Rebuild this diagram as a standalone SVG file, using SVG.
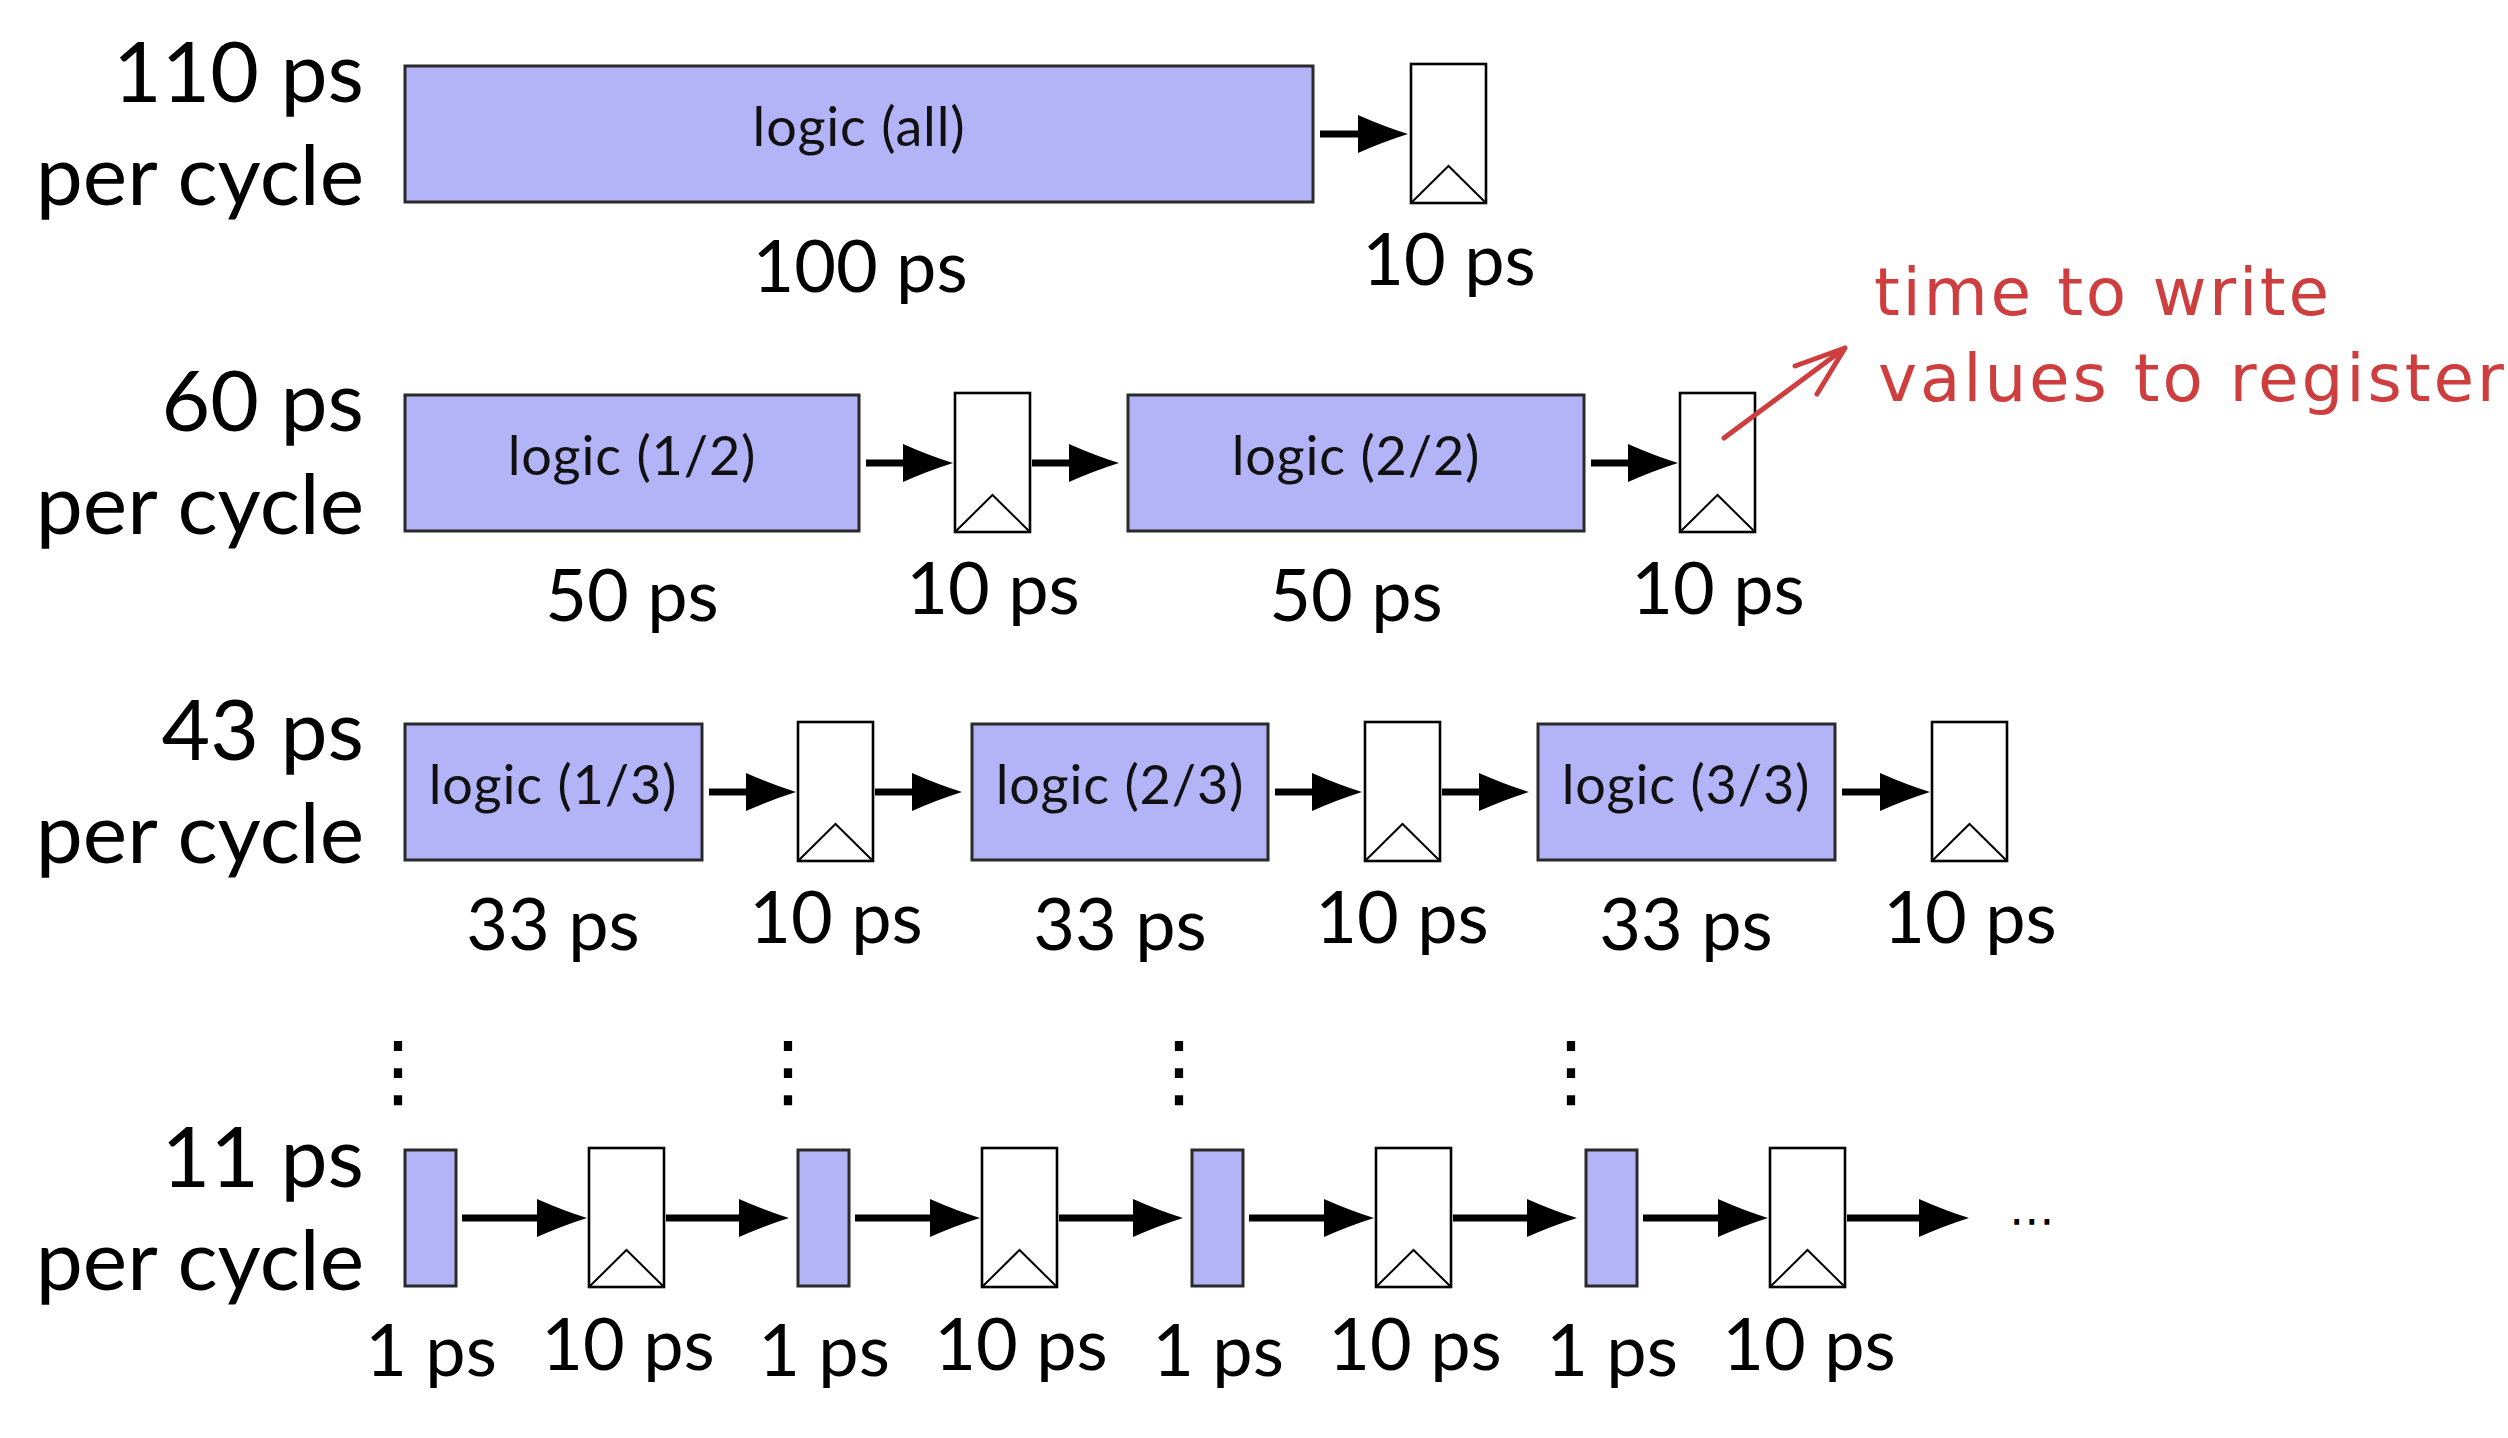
<svg xmlns="http://www.w3.org/2000/svg" width="2508" height="1438" viewBox="0 0 2508 1438">
<style>
.bg{fill:#ffffff}
.logic{fill:#b3b3f8;stroke:#2a2a2a;stroke-width:3}
.reg{fill:#ffffff;stroke:#000000;stroke-width:2.6}
.clk{fill:none;stroke:#000000;stroke-width:2}
.arr{stroke:#000000;stroke-width:7;fill:none}
.big{font-family:Lato,"Liberation Sans",sans-serif;font-size:84px;fill:#000;text-anchor:end}
.lbl{font-family:Lato,"Liberation Sans",sans-serif;font-size:72px;fill:#000;text-anchor:middle}
.lt{font-family:Lato,"Liberation Sans",sans-serif;font-size:54px;letter-spacing:0.8px;fill:#111;text-anchor:middle}
.dots{font-family:"DejaVu Sans",sans-serif;font-size:80px;fill:#000;text-anchor:middle}
.note{font-family:"DejaVu Sans",sans-serif;font-size:66px;fill:#cf3e3e}
.red{stroke:#cf3e3e;stroke-width:5;fill:none;stroke-linecap:round;stroke-linejoin:round}
</style>
<defs>
<marker id="ah" viewBox="0 0 50 38" markerWidth="50" markerHeight="38" refX="10" refY="19" orient="auto" markerUnits="userSpaceOnUse">
<path d="M0,0 Q26,11.5 50,19 Q26,26.5 0,38 Z" fill="#000"/>
</marker>
</defs>
<rect class="bg" x="0" y="0" width="2508" height="1438"/>

<g id="row-labels">
<text class="big" x="364" y="102">110 ps</text>
<text class="big" x="364" y="205">per cycle</text>
<text class="big" x="364" y="431">60 ps</text>
<text class="big" x="364" y="534">per cycle</text>
<text class="big" x="364" y="760">43 ps</text>
<text class="big" x="364" y="863">per cycle</text>
<text class="big" x="364" y="1187">11 ps</text>
<text class="big" x="364" y="1290">per cycle</text>
</g>

<!-- Row 1 -->
<g id="r1-logic"><rect class="logic" x="405" y="66" width="908" height="136"/><text class="lt" x="859" y="146">logic (all)</text><text class="lbl" x="860" y="292">100 ps</text></g>
<g id="r1-reg"><rect class="reg" x="1411" y="64" width="75" height="139"/><path class="clk" d="M1411,203 L1448.5,166 L1486,203"/><text class="lbl" x="1449" y="285">10 ps</text></g>

<!-- Row 2 -->
<g id="r2-logic1"><rect class="logic" x="405" y="395" width="454" height="136"/><text class="lt" x="632" y="475">logic (1/2)</text><text class="lbl" x="632" y="621">50 ps</text></g>
<g id="r2-reg1"><rect class="reg" x="955" y="393" width="75" height="139"/><path class="clk" d="M955,532 L992.5,495 L1030,532"/><text class="lbl" x="993" y="614">10 ps</text></g>
<g id="r2-logic2"><rect class="logic" x="1128" y="395" width="456" height="136"/><text class="lt" x="1356" y="475">logic (2/2)</text><text class="lbl" x="1356" y="621">50 ps</text></g>
<g id="r2-reg2"><rect class="reg" x="1680" y="393" width="75" height="139"/><path class="clk" d="M1680,532 L1717.5,495 L1755,532"/><text class="lbl" x="1718" y="614">10 ps</text></g>

<!-- Row 3 -->
<g id="r3-logic1"><rect class="logic" x="405" y="724" width="297" height="136"/><text class="lt" x="553" y="804">logic (1/3)</text><text class="lbl" x="553" y="950">33 ps</text></g>
<g id="r3-reg1"><rect class="reg" x="798" y="722" width="75" height="139"/><path class="clk" d="M798,861 L835.5,824 L873,861"/><text class="lbl" x="836" y="943">10 ps</text></g>
<g id="r3-logic2"><rect class="logic" x="972" y="724" width="296" height="136"/><text class="lt" x="1120" y="804">logic (2/3)</text><text class="lbl" x="1120" y="950">33 ps</text></g>
<g id="r3-reg2"><rect class="reg" x="1365" y="722" width="75" height="139"/><path class="clk" d="M1365,861 L1402.5,824 L1440,861"/><text class="lbl" x="1402" y="943">10 ps</text></g>
<g id="r3-logic3"><rect class="logic" x="1538" y="724" width="297" height="136"/><text class="lt" x="1686" y="804">logic (3/3)</text><text class="lbl" x="1686" y="950">33 ps</text></g>
<g id="r3-reg3"><rect class="reg" x="1932" y="722" width="75" height="139"/><path class="clk" d="M1932,861 L1969.5,824 L2007,861"/><text class="lbl" x="1970" y="943">10 ps</text></g>

<!-- Dots -->
<g id="vdots">
<text class="dots" x="398" y="1098">⋮</text>
<text class="dots" x="788" y="1098">⋮</text>
<text class="dots" x="1179" y="1098">⋮</text>
<text class="dots" x="1571" y="1098">⋮</text>
</g>

<!-- Row 4 -->
<g id="r4-logic1"><rect class="logic" x="405" y="1150" width="51" height="136"/><text class="lbl" x="431" y="1376">1 ps</text></g>
<g id="r4-reg1"><rect class="reg" x="589" y="1148" width="75" height="139"/><path class="clk" d="M589,1287 L626.5,1250 L664,1287"/><text class="lbl" x="628" y="1370">10 ps</text></g>
<g id="r4-logic2"><rect class="logic" x="798" y="1150" width="51" height="136"/><text class="lbl" x="824" y="1376">1 ps</text></g>
<g id="r4-reg2"><rect class="reg" x="982" y="1148" width="75" height="139"/><path class="clk" d="M982,1287 L1019.5,1250 L1057,1287"/><text class="lbl" x="1021" y="1370">10 ps</text></g>
<g id="r4-logic3"><rect class="logic" x="1192" y="1150" width="51" height="136"/><text class="lbl" x="1218" y="1376">1 ps</text></g>
<g id="r4-reg3"><rect class="reg" x="1376" y="1148" width="75" height="139"/><path class="clk" d="M1376,1287 L1413.5,1250 L1451,1287"/><text class="lbl" x="1415" y="1370">10 ps</text></g>
<g id="r4-logic4"><rect class="logic" x="1586" y="1150" width="51" height="136"/><text class="lbl" x="1612" y="1376">1 ps</text></g>
<g id="r4-reg4"><rect class="reg" x="1770" y="1148" width="75" height="139"/><path class="clk" d="M1770,1287 L1807.5,1250 L1845,1287"/><text class="lbl" x="1809" y="1370">10 ps</text></g>
<g id="r4-more"><text x="2032" y="1236" style="font-family:'DejaVu Sans',sans-serif;font-size:46px;text-anchor:middle">⋯</text></g>

<g id="connectors">
<line class="arr" x1="1320" y1="134" x2="1368" y2="134" marker-end="url(#ah)"/>

<line class="arr" x1="866" y1="463" x2="913" y2="463" marker-end="url(#ah)"/>
<line class="arr" x1="1032" y1="463" x2="1079" y2="463" marker-end="url(#ah)"/>
<line class="arr" x1="1591" y1="463" x2="1638" y2="463" marker-end="url(#ah)"/>

<line class="arr" x1="709" y1="792" x2="756" y2="792" marker-end="url(#ah)"/>
<line class="arr" x1="875" y1="792" x2="922" y2="792" marker-end="url(#ah)"/>
<line class="arr" x1="1275" y1="792" x2="1322" y2="792" marker-end="url(#ah)"/>
<line class="arr" x1="1442" y1="792" x2="1489" y2="792" marker-end="url(#ah)"/>
<line class="arr" x1="1842" y1="792" x2="1890" y2="792" marker-end="url(#ah)"/>

<line class="arr" x1="462" y1="1218" x2="547" y2="1218" marker-end="url(#ah)"/>
<line class="arr" x1="666" y1="1218" x2="749" y2="1218" marker-end="url(#ah)"/>
<line class="arr" x1="855" y1="1218" x2="940" y2="1218" marker-end="url(#ah)"/>
<line class="arr" x1="1059" y1="1218" x2="1143" y2="1218" marker-end="url(#ah)"/>
<line class="arr" x1="1249" y1="1218" x2="1334" y2="1218" marker-end="url(#ah)"/>
<line class="arr" x1="1453" y1="1218" x2="1537" y2="1218" marker-end="url(#ah)"/>
<line class="arr" x1="1643" y1="1218" x2="1728" y2="1218" marker-end="url(#ah)"/>
<line class="arr" x1="1847" y1="1218" x2="1929" y2="1218" marker-end="url(#ah)"/>
</g>

<g id="annotation">
<text class="note" x="1874" y="315" textLength="455" lengthAdjust="spacing">time to write</text>
<text class="note" x="1878" y="401" textLength="626" lengthAdjust="spacing">values to register</text>
<path class="red" d="M1724,438 L1845,348 M1795,366 L1845,348 L1817,394"/>
</g>
</svg>
